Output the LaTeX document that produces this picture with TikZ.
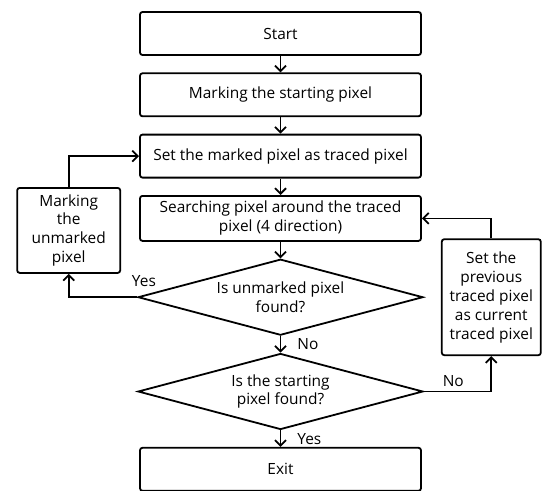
\documentclass[tikz,border=0pt]{standalone}
\usepackage{fontspec}
\setmainfont{Open Sans}
\usetikzlibrary{arrows.meta,positioning,shapes.geometric}

\begin{document}
\begin{tikzpicture}[
  font=\fontsize{15.5}{19}\selectfont,
  stage/.style={draw, rounded corners=2.5bp, line width=1.8bp, align=center,
                minimum width=281bp, minimum height=43bp, inner sep=2pt},
  side/.style={draw, rounded corners=2.5bp, line width=1.8bp, align=center,
               inner sep=2pt},
  test/.style={draw, diamond, line width=1.8bp, align=center, aspect=3.75,
               inner sep=0pt, minimum width=285bp, minimum height=76bp},
  op/.style={inner sep=2pt},
  a/.style={-{Straight Barb[length=5.5bp,width=11bp]}, line width=1.8bp}]
\useasboundingbox (0,0) rectangle (544bp,-491bp);
\node[stage] (start) at (280.5bp,-33.5bp) {Start};
\node[stage, below=16.5bp of start] (mark) {Marking the starting pixel};
\node[stage, below=16.5bp of mark] (set) {Set the marked pixel as traced pixel};
\node[stage, minimum height=45bp, below=16.5bp of set] (search)
  {Searching pixel around the traced\\pixel (4 direction)};
\node[test, below=16.5bp of search] (found) {Is unmarked pixel\\found?};
\node[test, below=16.5bp of found] (check) {Is the starting\\pixel found?};
\node[stage, below=16.5bp of check] (exit) {Exit};
\node[side, minimum width=103bp, minimum height=85bp, left=18bp of search,
      yshift=-12bp] (unmark) {Marking\\the\\unmarked\\pixel};
\node[side, minimum width=99bp, minimum height=116bp, right=17bp of found]
  (back) {Set the\\previous\\traced pixel\\as current\\traced pixel};
\draw[a] (start) -- (mark);
\draw[a] (mark) -- (set);
\draw[a] (set) -- (search);
\draw[a] (search) -- (found);
\draw[a] (found) -- (check) node[op, midway, right=14bp]{No};
\draw[a] (check) -- (exit) node[op, midway, right=14bp]{Yes};
\draw[a] (found.west) -| (unmark.south)
  node[op, pos=0, anchor=south west, xshift=-8bp, yshift=8bp]{Yes};
\draw[a] (unmark.north) |- (set.west);
\draw[a] (check.east) -| (back.south)
  node[op, pos=0, anchor=south west, xshift=16bp, yshift=2bp]{No};
\draw[a] (back.north) |- (search.east);
\end{tikzpicture}
\end{document}
